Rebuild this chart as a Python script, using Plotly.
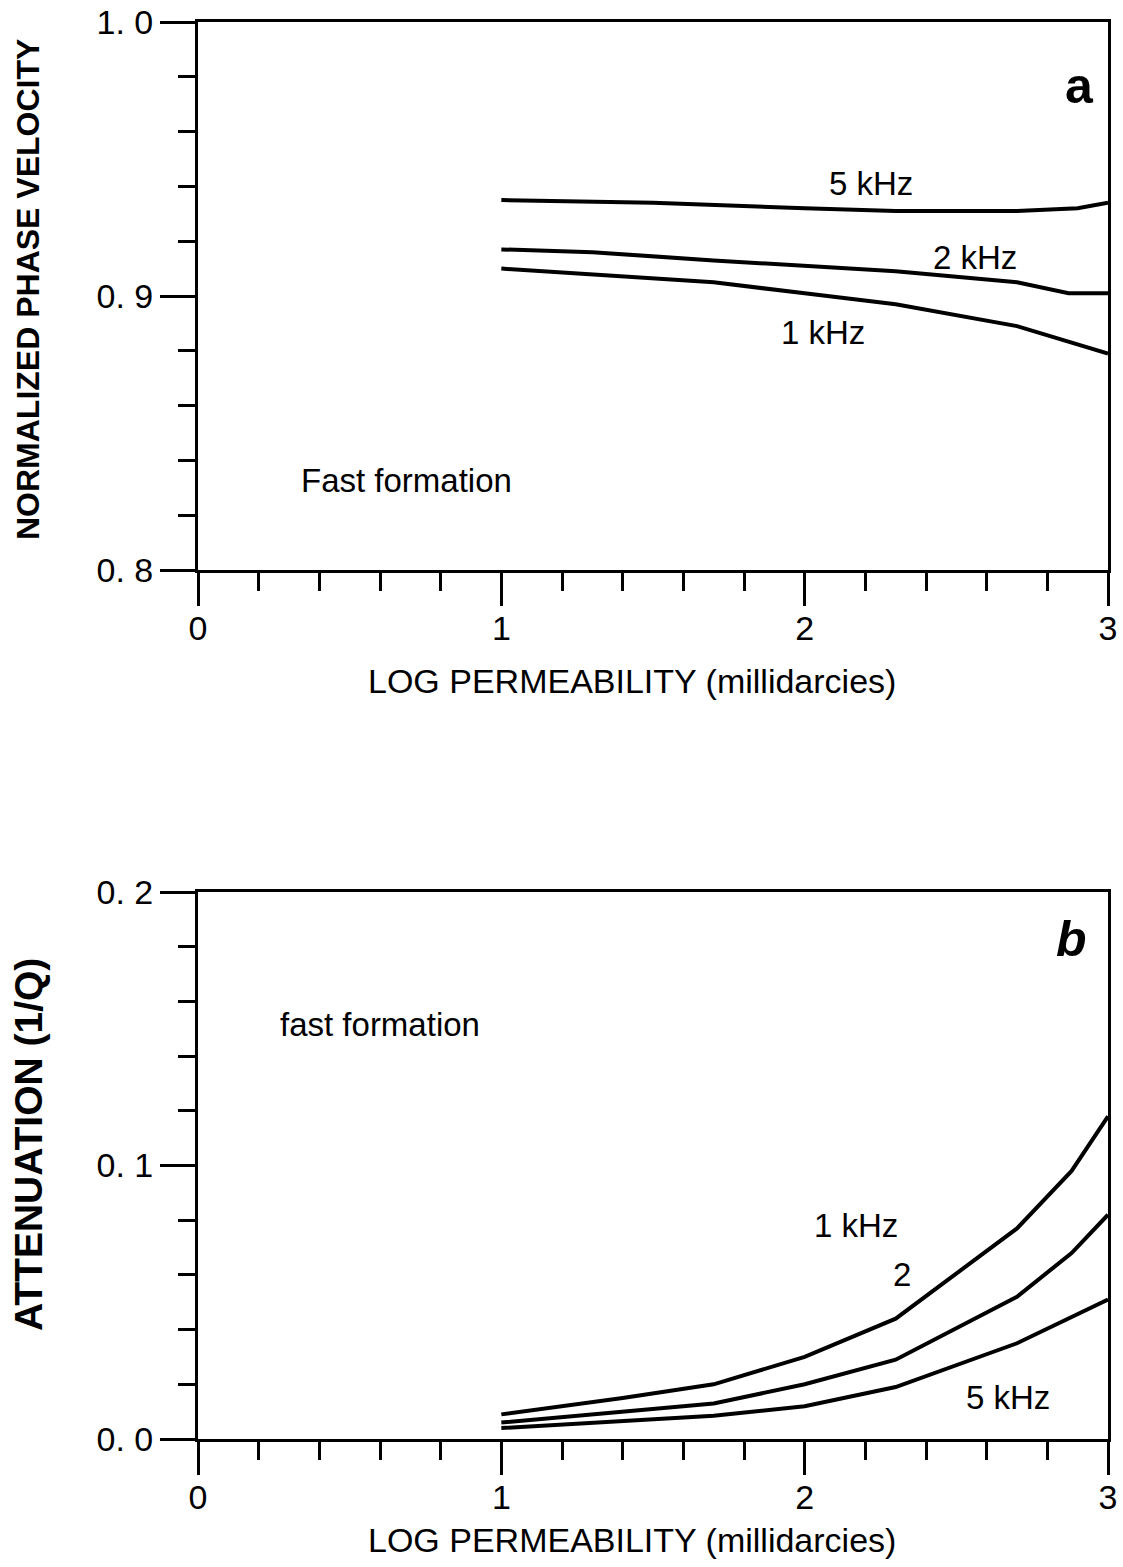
import plotly.graph_objects as go

# ---- data ----
# Panel a: normalized phase velocity vs log permeability
vel_x_5k = [1.0, 1.5, 2.0, 2.3, 2.7, 2.9, 3.0]
vel_y_5k = [0.935, 0.934, 0.932, 0.931, 0.931, 0.932, 0.934]
vel_x_2k = [1.0, 1.3, 1.7, 2.0, 2.3, 2.7, 2.87, 3.0]
vel_y_2k = [0.917, 0.916, 0.913, 0.911, 0.909, 0.905, 0.901, 0.901]
vel_x_1k = [1.0, 1.3, 1.7, 2.0, 2.3, 2.7, 3.0]
vel_y_1k = [0.910, 0.908, 0.905, 0.901, 0.897, 0.889, 0.879]

# Panel b: attenuation (1/Q) vs log permeability
att_x_1k = [1.0, 1.4, 1.7, 2.0, 2.3, 2.7, 2.88, 3.0]
att_y_1k = [0.009, 0.015, 0.020, 0.030, 0.044, 0.077, 0.098, 0.118]
att_x_2k = [1.0, 1.4, 1.7, 2.0, 2.3, 2.7, 2.88, 3.0]
att_y_2k = [0.006, 0.010, 0.013, 0.020, 0.029, 0.052, 0.068, 0.082]
att_x_5k = [1.0, 1.4, 1.7, 2.0, 2.3, 2.7, 3.0]
att_y_5k = [0.004, 0.0065, 0.0085, 0.012, 0.019, 0.035, 0.051]

x_tickvals = [0, 1, 2, 3]
x_ticktext = ["0", "1", "2", "3"]
vel_tickvals = [0.8, 0.9, 1.0]
vel_ticktext = ["0. 8", "0. 9", "1. 0"]
att_tickvals = [0.0, 0.1, 0.2]
att_ticktext = ["0. 0", "0. 1", "0. 2"]

W, H = 1123, 1567
FONT = "Liberation Sans, Arial, sans-serif"

def px_x(p):
    return p / W

def px_y(p):
    return 1 - p / H

fig = go.Figure()
line = dict(color="black", width=4)
for xs, ys in [(vel_x_5k, vel_y_5k), (vel_x_2k, vel_y_2k), (vel_x_1k, vel_y_1k)]:
    fig.add_trace(go.Scatter(x=xs, y=ys, mode="lines", line=line,
                             xaxis="x", yaxis="y", showlegend=False))
for xs, ys in [(att_x_1k, att_y_1k), (att_x_2k, att_y_2k), (att_x_5k, att_y_5k)]:
    fig.add_trace(go.Scatter(x=xs, y=ys, mode="lines", line=line,
                             xaxis="x2", yaxis="y2", showlegend=False))

def xaxis(domain, anchor):
    return dict(domain=domain, anchor=anchor, range=[0, 3], automargin=False,
                tickmode="array", tickvals=x_tickvals, ticktext=x_ticktext,
                ticks="outside", ticklen=33, tickwidth=2.5, tickcolor="black",
                ticklabelstandoff=-7,
                minor=dict(tick0=0, dtick=0.2, ticks="outside", ticklen=18,
                           tickwidth=2.5, tickcolor="black"),
                showline=True, linewidth=3, linecolor="black", mirror=True,
                showgrid=False, zeroline=False,
                tickfont=dict(family=FONT, size=34, color="black"))

def yaxis(domain, anchor, rng, tv, tt, mdt):
    return dict(domain=domain, anchor=anchor, range=rng, automargin=False,
                tickmode="array", tickvals=tv, ticktext=tt,
                ticks="outside", ticklen=35, tickwidth=2.5, tickcolor="black",
                minor=dict(tick0=rng[0], dtick=mdt, ticks="outside", ticklen=17,
                           tickwidth=2.5, tickcolor="black"),
                showline=True, linewidth=3, linecolor="black", mirror=True,
                showgrid=False, zeroline=False,
                tickfont=dict(family=FONT, size=34, color="black"))

xd = [px_x(198), px_x(1108)]
fig.update_layout(
    width=W, height=H,
    margin=dict(l=0, r=0, t=0, b=0),
    paper_bgcolor="white", plot_bgcolor="white",
    xaxis=xaxis(xd, "y"),
    yaxis=yaxis([px_y(570), px_y(22)], "x", [0.8, 1.0], vel_tickvals, vel_ticktext, 0.02),
    xaxis2=xaxis(xd, "y2"),
    yaxis2=yaxis([px_y(1439), px_y(892)], "x2", [0.0, 0.2], att_tickvals, att_ticktext, 0.02),
)

ann = []
def txt(text, x, y, xref, yref, size=33, bold=False, italic=False, textangle=0, family=FONT):
    t = text
    if bold:
        t = "<b>" + t + "</b>"
    if italic:
        t = "<i>" + t + "</i>"
    ann.append(dict(text=t, x=x, y=y, xref=xref, yref=yref, showarrow=False,
                    xanchor="center", yanchor="middle", textangle=textangle,
                    font=dict(family=family, size=size, color="black")))

# curve labels, panel a
txt("5 kHz", 2.22, 0.9409, "x", "y")
txt("2 kHz", 2.56, 0.9142, "x", "y")
txt("1 kHz", 2.06, 0.8865, "x", "y")
txt("Fast formation", 0.686, 0.8325, "x", "y")
txt("a", 2.905, 0.9766, "x", "y", size=50, bold=True)
# curve labels, panel b
txt("1 kHz", 2.17, 0.0779, "x2", "y2")
txt("2", 2.32, 0.060, "x2", "y2")
txt("5 kHz", 2.67, 0.015, "x2", "y2")
txt("fast formation", 0.60, 0.1517, "x2", "y2")
txt("b", 2.88, 0.183, "x2", "y2", size=50, bold=True, italic=True)

# axis titles
txt("LOG PERMEABILITY (millidarcies)", px_x(632), px_y(681), "paper", "paper", size=34)
txt("LOG PERMEABILITY (millidarcies)", px_x(632), px_y(1540), "paper", "paper", size=34)
txt("NORMALIZED PHASE VELOCITY", px_x(28), px_y(290), "paper", "paper", size=32,
    bold=True, textangle=-90)
txt("ATTENUATION (1/Q)", px_x(28), px_y(1145), "paper", "paper", size=39,
    bold=True, textangle=-90)

fig.update_layout(annotations=ann)
fig.write_html("out.html")
